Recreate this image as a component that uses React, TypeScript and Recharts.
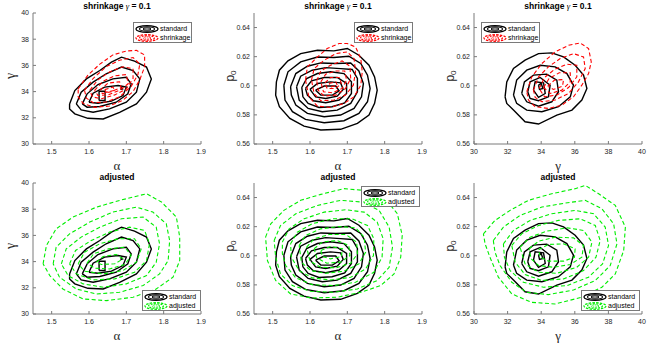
import React from "react";
import { ScatterChart, Scatter, XAxis, YAxis } from "recharts";

type Pt = [number, number];

// axis ranges and ticks
const alphaDomain: [number, number] = [1.45, 1.9];
const alphaTicks = [1.5, 1.6, 1.7, 1.8, 1.9];
const gammaDomain: [number, number] = [30, 40];
const gammaTicks = [30, 32, 34, 36, 38, 40];
const p0Domain: [number, number] = [0.56, 0.65];
const p0Ticks = [0.56, 0.58, 0.6, 0.62, 0.64];

// standard posterior contours (alpha, gamma)
const stdAlphaGamma: Pt[][] = [
  [[1.548, 33.06], [1.562, 34.08], [1.593, 34.97], [1.629, 35.61], [1.66, 36.25], [1.687, 36.63], [1.722, 36.33], [1.754, 35.87], [1.767, 34.97], [1.754, 33.95], [1.727, 33.06], [1.682, 32.42], [1.638, 31.91], [1.597, 31.96], [1.562, 32.3], [1.548, 32.68]],
  [[1.566, 33.06], [1.579, 33.95], [1.611, 34.72], [1.646, 35.36], [1.687, 35.87], [1.718, 35.61], [1.736, 34.97], [1.727, 33.95], [1.7, 33.19], [1.655, 32.68], [1.611, 32.42], [1.579, 32.6]],
  [[1.582, 33.06], [1.595, 33.83], [1.624, 34.54], [1.664, 34.97], [1.7, 35.1], [1.713, 34.59], [1.704, 33.83], [1.673, 33.19], [1.629, 32.86], [1.595, 32.81]],
  [[1.6, 33.19], [1.611, 33.88], [1.642, 34.34], [1.678, 34.46], [1.7, 34.34], [1.691, 33.7], [1.66, 33.27], [1.624, 33.11]],
  [[1.627, 33.32], [1.627, 34.03], [1.643, 34.03], [1.643, 33.32]],
  [[1.685, 34.15], [1.687, 34.3], [1.69, 34.2]],
];

// shrinkage contours (alpha, gamma)
const shrinkAlphaGamma: Pt[][] = [
  [[1.571, 34.2], [1.597, 35.25], [1.629, 36.1], [1.664, 36.8], [1.7, 37.1], [1.727, 37.15], [1.749, 36.8], [1.749, 35.9], [1.736, 34.9], [1.718, 34.0], [1.691, 33.35], [1.655, 32.9], [1.615, 32.8], [1.584, 33.1], [1.571, 33.6]],
  [[1.588, 34.1], [1.611, 35.0], [1.646, 35.9], [1.682, 36.4], [1.718, 36.6], [1.736, 36.1], [1.731, 35.3], [1.713, 34.4], [1.682, 33.6], [1.646, 33.2], [1.611, 33.15], [1.593, 33.5]],
  [[1.602, 34.1], [1.624, 34.9], [1.655, 35.5], [1.691, 35.9], [1.718, 35.75], [1.718, 35.0], [1.7, 34.2], [1.669, 33.75], [1.633, 33.45], [1.609, 33.6]],
  [[1.615, 34.1], [1.638, 34.8], [1.669, 35.2], [1.7, 35.3], [1.705, 34.6], [1.682, 34.1], [1.651, 33.75], [1.624, 33.7]],
  [[1.629, 34.1], [1.651, 34.65], [1.682, 34.75], [1.686, 34.3], [1.66, 34.0], [1.636, 33.85]],
  [[1.642, 34.15], [1.664, 34.35], [1.669, 34.1], [1.646, 33.95]],
];

// adjusted contours (alpha, gamma)
const adjAlphaGamma: Pt[][] = [
  [[1.477, 33.83], [1.486, 35.23], [1.512, 36.5], [1.557, 37.4], [1.62, 38.16], [1.682, 38.67], [1.754, 39.18], [1.794, 38.55], [1.834, 37.4], [1.843, 35.87], [1.843, 34.08], [1.825, 32.81], [1.78, 31.91], [1.718, 31.28], [1.646, 31.02], [1.584, 31.15], [1.53, 31.91], [1.495, 32.93]],
  [[1.504, 33.83], [1.512, 35.1], [1.548, 36.12], [1.602, 37.02], [1.664, 37.78], [1.727, 38.16], [1.771, 37.78], [1.807, 36.89], [1.816, 35.61], [1.812, 34.08], [1.789, 33.06], [1.745, 32.17], [1.682, 31.66], [1.62, 31.53], [1.566, 31.91], [1.521, 32.81]],
  [[1.526, 33.83], [1.539, 34.97], [1.579, 35.87], [1.629, 36.63], [1.687, 37.27], [1.745, 37.4], [1.78, 36.63], [1.789, 35.36], [1.78, 33.95], [1.754, 32.93], [1.7, 32.3], [1.638, 32.04], [1.584, 32.3], [1.544, 32.93]],
  [[1.548, 33.83], [1.564, 34.85], [1.606, 35.61], [1.655, 36.25], [1.709, 36.63], [1.749, 36.38], [1.762, 35.36], [1.754, 34.08], [1.722, 33.19], [1.669, 32.68], [1.611, 32.6], [1.566, 33.06]],
  [[1.571, 33.83], [1.588, 34.72], [1.629, 35.36], [1.678, 35.74], [1.722, 35.74], [1.74, 34.97], [1.727, 33.95], [1.691, 33.32], [1.638, 33.06], [1.588, 33.27]],
  [[1.595, 33.88], [1.612, 34.59], [1.652, 34.97], [1.696, 35.1], [1.713, 34.46], [1.696, 33.78], [1.655, 33.44], [1.615, 33.5]],
  [[1.62, 33.95], [1.638, 34.39], [1.673, 34.54], [1.691, 34.21], [1.669, 33.83], [1.633, 33.78]],
];

// standard posterior contours (alpha, p0)
const stdAlphaP0: Pt[][] = [
  [[1.51, 0.6027], [1.518, 0.6107], [1.541, 0.6171], [1.575, 0.6221], [1.62, 0.6244], [1.664, 0.624], [1.7, 0.6256], [1.731, 0.621], [1.758, 0.6141], [1.773, 0.6061], [1.78, 0.597], [1.773, 0.5879], [1.758, 0.5799], [1.727, 0.5742], [1.682, 0.5701], [1.629, 0.5696], [1.584, 0.5723], [1.546, 0.5776], [1.518, 0.5856], [1.508, 0.5936]],
  [[1.53, 0.6004], [1.541, 0.6096], [1.575, 0.6164], [1.62, 0.6198], [1.664, 0.6194], [1.704, 0.6203], [1.736, 0.6153], [1.754, 0.6073], [1.761, 0.5981], [1.754, 0.589], [1.731, 0.581], [1.691, 0.576], [1.638, 0.5746], [1.588, 0.5769], [1.553, 0.5822], [1.533, 0.5902]],
  [[1.548, 0.5993], [1.562, 0.6084], [1.593, 0.6134], [1.629, 0.6157], [1.669, 0.6153], [1.709, 0.6157], [1.731, 0.6102], [1.743, 0.6016], [1.738, 0.5924], [1.718, 0.5844], [1.682, 0.5799], [1.638, 0.5787], [1.593, 0.581], [1.562, 0.5867], [1.55, 0.5936]],
  [[1.564, 0.5993], [1.575, 0.6066], [1.606, 0.6107], [1.642, 0.6125], [1.682, 0.6118], [1.713, 0.6112], [1.727, 0.605], [1.727, 0.5959], [1.709, 0.5879], [1.673, 0.5833], [1.633, 0.5822], [1.595, 0.5844], [1.571, 0.5902]],
  [[1.578, 0.5988], [1.591, 0.605], [1.62, 0.6084], [1.655, 0.6096], [1.691, 0.6084], [1.711, 0.6027], [1.711, 0.5947], [1.693, 0.5883], [1.659, 0.5856], [1.624, 0.5851], [1.595, 0.5879], [1.581, 0.5924]],
  [[1.588, 0.5981], [1.604, 0.6034], [1.638, 0.6057], [1.673, 0.6057], [1.698, 0.6016], [1.698, 0.5947], [1.678, 0.5902], [1.642, 0.5883], [1.609, 0.5897], [1.593, 0.5936]],
  [[1.6, 0.5975], [1.62, 0.6016], [1.655, 0.6027], [1.682, 0.602], [1.689, 0.5975], [1.673, 0.5929], [1.642, 0.5913], [1.615, 0.5924]],
  [[1.615, 0.597], [1.638, 0.5998], [1.669, 0.5998], [1.678, 0.5965], [1.66, 0.5936], [1.629, 0.5936]],
];

// shrinkage contours (alpha, p0)
const shrinkAlphaP0: Pt[][] = [
  [[1.588, 0.6039], [1.593, 0.613], [1.62, 0.6198], [1.646, 0.6256], [1.678, 0.629], [1.7, 0.629], [1.722, 0.6267], [1.736, 0.6187], [1.74, 0.6096], [1.736, 0.6004], [1.718, 0.5924], [1.691, 0.5879], [1.655, 0.5851], [1.62, 0.586], [1.597, 0.5924]],
  [[1.604, 0.6039], [1.611, 0.6118], [1.638, 0.6176], [1.669, 0.6221], [1.7, 0.6233], [1.718, 0.6187], [1.722, 0.6096], [1.716, 0.6004], [1.695, 0.5936], [1.664, 0.5902], [1.629, 0.5897], [1.611, 0.5947]],
  [[1.618, 0.6034], [1.629, 0.6102], [1.655, 0.6141], [1.686, 0.6171], [1.707, 0.6134], [1.709, 0.605], [1.695, 0.5981], [1.669, 0.5936], [1.638, 0.5929], [1.622, 0.597]],
  [[1.629, 0.6027], [1.642, 0.608], [1.669, 0.6102], [1.693, 0.6102], [1.698, 0.6039], [1.686, 0.5981], [1.66, 0.5952], [1.636, 0.5959]],
  [[1.64, 0.602], [1.655, 0.6057], [1.678, 0.6057], [1.684, 0.6016], [1.669, 0.5981], [1.646, 0.5981]],
  [[1.651, 0.6016], [1.669, 0.6027], [1.673, 0.6004], [1.657, 0.5993]],
];

// adjusted contours (alpha, p0)
const adjAlphaP0: Pt[][] = [
  [[1.481, 0.6128], [1.495, 0.622], [1.53, 0.6312], [1.575, 0.6381], [1.629, 0.6422], [1.691, 0.6461], [1.745, 0.6449], [1.798, 0.6403], [1.834, 0.6289], [1.847, 0.614], [1.843, 0.599], [1.825, 0.5875], [1.789, 0.5795], [1.736, 0.5749], [1.673, 0.5715], [1.602, 0.571], [1.548, 0.5738], [1.508, 0.583], [1.486, 0.5967]],
  [[1.504, 0.6105], [1.521, 0.6208], [1.562, 0.6289], [1.62, 0.6346], [1.682, 0.6381], [1.74, 0.6369], [1.785, 0.6312], [1.812, 0.6197], [1.821, 0.6059], [1.812, 0.5921], [1.78, 0.583], [1.727, 0.5772], [1.664, 0.5749], [1.602, 0.5756], [1.553, 0.5795], [1.521, 0.5875], [1.508, 0.599]],
  [[1.526, 0.6094], [1.544, 0.6185], [1.584, 0.6254], [1.638, 0.63], [1.696, 0.6316], [1.745, 0.63], [1.78, 0.6231], [1.796, 0.6117], [1.793, 0.599], [1.771, 0.5887], [1.722, 0.5818], [1.664, 0.5795], [1.606, 0.5802], [1.562, 0.5848], [1.535, 0.5933], [1.526, 0.6013]],
  [[1.548, 0.6082], [1.566, 0.6162], [1.606, 0.622], [1.66, 0.6254], [1.713, 0.6254], [1.754, 0.6208], [1.771, 0.6117], [1.77, 0.6002], [1.749, 0.591], [1.709, 0.5852], [1.655, 0.5834], [1.606, 0.5848], [1.571, 0.5898], [1.55, 0.599]],
  [[1.571, 0.6071], [1.588, 0.614], [1.629, 0.6185], [1.678, 0.6201], [1.722, 0.6192], [1.745, 0.6128], [1.749, 0.6025], [1.731, 0.5944], [1.691, 0.5894], [1.642, 0.588], [1.602, 0.5898], [1.577, 0.5956]],
  [[1.591, 0.6059], [1.611, 0.6117], [1.651, 0.6146], [1.696, 0.6146], [1.725, 0.6094], [1.727, 0.6013], [1.709, 0.5949], [1.669, 0.5917], [1.629, 0.5921], [1.6, 0.5963]],
  [[1.611, 0.6048], [1.633, 0.6094], [1.673, 0.6105], [1.704, 0.6071], [1.707, 0.6002], [1.682, 0.5956], [1.645, 0.5949], [1.618, 0.5986]],
  [[1.629, 0.6036], [1.655, 0.6064], [1.687, 0.6048], [1.684, 0.5995], [1.655, 0.5979], [1.633, 0.5995]],
];

// standard posterior contours (gamma, p0)
const stdGammaP0: Pt[][] = [
  [[31.85, 0.5924], [31.95, 0.6027], [32.35, 0.6119], [33.04, 0.6176], [33.84, 0.6221], [34.63, 0.6226], [35.33, 0.6198], [36.02, 0.6141], [36.52, 0.6073], [36.72, 0.5981], [36.42, 0.5902], [35.83, 0.5833], [34.93, 0.5799], [33.84, 0.5737], [33.04, 0.5753], [32.35, 0.5833], [31.95, 0.5879]],
  [[32.35, 0.5936], [32.54, 0.6039], [33.14, 0.6107], [33.94, 0.6141], [34.83, 0.613], [35.53, 0.6084], [35.92, 0.6004], [35.73, 0.5924], [35.03, 0.5856], [34.04, 0.5822], [33.14, 0.5833], [32.54, 0.5879]],
  [[32.84, 0.5947], [33.0, 0.6027], [33.54, 0.6073], [34.33, 0.608], [34.93, 0.6039], [35.03, 0.5959], [34.63, 0.589], [33.84, 0.586], [33.14, 0.589]],
  [[33.2, 0.5959], [33.34, 0.6027], [33.94, 0.6057], [34.53, 0.6004], [34.43, 0.5924], [33.84, 0.5897], [33.34, 0.5913]],
  [[33.54, 0.597], [33.64, 0.6027], [34.14, 0.602], [34.24, 0.5947], [33.84, 0.592]],
  [[33.84, 0.6004], [34.0, 0.6016], [34.1, 0.5981], [33.9, 0.5975]],
];

// shrinkage contours (gamma, p0)
const shrinkGammaP0: Pt[][] = [
  [[33.14, 0.5959], [33.44, 0.6061], [34.04, 0.6153], [34.83, 0.6233], [35.63, 0.6278], [36.32, 0.6294], [36.82, 0.6256], [36.98, 0.6164], [36.82, 0.6084], [36.42, 0.6004], [35.92, 0.5924], [35.23, 0.5867], [34.43, 0.5844], [33.64, 0.5856], [33.24, 0.5902]],
  [[33.54, 0.597], [33.84, 0.6061], [34.43, 0.613], [35.13, 0.6187], [35.92, 0.6221], [36.52, 0.6198], [36.62, 0.6118], [36.22, 0.6027], [35.63, 0.5947], [34.83, 0.5902], [34.04, 0.589], [33.64, 0.592]],
  [[33.88, 0.5981], [34.2, 0.6057], [34.79, 0.6112], [35.53, 0.6148], [36.12, 0.6141], [36.12, 0.6061], [35.63, 0.5988], [34.93, 0.5936], [34.2, 0.5924]],
  [[34.14, 0.5988], [34.47, 0.605], [35.07, 0.6089], [35.73, 0.6089], [35.73, 0.6027], [35.23, 0.597], [34.53, 0.5947]],
  [[34.39, 0.5997], [34.79, 0.6039], [35.33, 0.6043], [35.27, 0.5997], [34.73, 0.5975]],
];

// adjusted contours (gamma, p0)
const adjGammaP0: Pt[][] = [
  [[30.56, 0.6151], [31.25, 0.6243], [32.15, 0.6312], [33.24, 0.6381], [34.63, 0.6426], [36.02, 0.6461], [36.62, 0.6484], [37.42, 0.6426], [38.41, 0.6346], [39.01, 0.6197], [38.91, 0.6036], [38.41, 0.5875], [37.61, 0.5784], [36.42, 0.5715], [34.83, 0.5669], [33.44, 0.568], [32.25, 0.5738], [31.45, 0.5853], [30.95, 0.599], [30.66, 0.6082]],
  [[31.15, 0.6105], [31.75, 0.6197], [32.74, 0.6277], [34.04, 0.6335], [35.43, 0.6362], [36.62, 0.6381], [37.61, 0.6323], [38.31, 0.622], [38.51, 0.6082], [38.11, 0.5933], [37.22, 0.583], [35.92, 0.5765], [34.43, 0.5733], [33.14, 0.5749], [32.25, 0.5818], [31.55, 0.5933], [31.25, 0.6025]],
  [[31.75, 0.6082], [32.35, 0.6174], [33.34, 0.6243], [34.63, 0.6289], [36.02, 0.6312], [37.12, 0.6289], [37.81, 0.6197], [38.01, 0.6071], [37.65, 0.5944], [36.82, 0.5853], [35.53, 0.5795], [34.14, 0.5784], [32.94, 0.5818], [32.15, 0.5898], [31.81, 0.599]],
  [[32.25, 0.6071], [32.84, 0.6151], [33.84, 0.6208], [35.03, 0.6243], [36.32, 0.6254], [37.22, 0.6208], [37.51, 0.6105], [37.26, 0.599], [36.52, 0.5898], [35.33, 0.5841], [34.04, 0.583], [33.04, 0.5871], [32.45, 0.5956]],
  [[32.74, 0.6059], [33.34, 0.6128], [34.33, 0.6169], [35.53, 0.6192], [36.52, 0.6174], [37.02, 0.6094], [36.82, 0.599], [36.12, 0.5921], [34.93, 0.588], [33.84, 0.5887], [33.04, 0.5944]],
  [[33.28, 0.6048], [33.84, 0.61], [34.83, 0.6128], [35.92, 0.6123], [36.52, 0.6071], [36.42, 0.599], [35.73, 0.594], [34.73, 0.5921], [33.84, 0.5933], [33.4, 0.5979]],
  [[33.84, 0.6041], [34.43, 0.6078], [35.33, 0.6082], [36.02, 0.6048], [35.98, 0.599], [35.33, 0.5963], [34.43, 0.5963], [33.94, 0.599]],
];

const SANS = '"Liberation Sans", Arial, Helvetica, sans-serif';
const SERIF = '"Liberation Serif", "Times New Roman", serif';
const TICK_GRAY = "#262626";
const BOX_GRAY = "#7a7a7a";

const W = 221;
const H = 174;
const PLOT_LEFT = 33;
const PLOT_W = 168;
const PLOT_H = 131;

const closed = (c: Pt[]) => [...c, c[0]].map(([x, y]) => ({ x, y }));
const noDot = () => <g />;

const LegendIcon = ({ color, dashed }: { color: string; dashed: boolean }) => (
  <svg width={24} height={8} style={{ display: "block" }}>
    <ellipse cx={12} cy={4} rx={11} ry={3.3} fill="none" stroke={color} strokeWidth={1.2} strokeDasharray={dashed ? "2.5 1.2" : undefined} />
    <ellipse cx={12} cy={4} rx={7.5} ry={2.2} fill="none" stroke={color} strokeWidth={1.1} strokeDasharray={dashed ? "2 1.2" : undefined} />
    <ellipse cx={12} cy={4} rx={4} ry={1.1} fill="none" stroke={color} strokeWidth={1} strokeDasharray={dashed ? "1.5 1" : undefined} />
  </svg>
);

const LegendBox = ({ left, top, color, name }: { left: number; top: number; color: string; name: string }) => (
  <div
    style={{
      position: "absolute",
      left,
      top,
      width: 59,
      height: 21,
      boxSizing: "border-box",
      border: `1px solid ${BOX_GRAY}`,
      background: "#fff",
      fontFamily: SANS,
      fontSize: 7,
      color: "#000",
      padding: "1px 0 0 1px",
    }}
  >
    <div style={{ display: "flex", alignItems: "center", height: 9 }}>
      <LegendIcon color="#000" dashed={false} />
      <span style={{ marginLeft: 1 }}>standard</span>
    </div>
    <div style={{ display: "flex", alignItems: "center", height: 9 }}>
      <LegendIcon color={color} dashed />
      <span style={{ marginLeft: 1 }}>{name}</span>
    </div>
  </div>
);

interface PanelProps {
  left: number;
  top: number;
  bottomRow: boolean;
  xDomain: [number, number];
  xTicks: number[];
  yDomain: [number, number];
  yTicks: number[];
  xLabel: React.ReactNode;
  yLabel: React.ReactNode;
  std: Pt[][];
  other: Pt[][];
  color: string;
  name: string;
  legend: [number, number];
}

const Panel = (p: PanelProps) => {
  const marginTop = p.bottomRow ? 9 : 13;
  const plotBottom = marginTop + PLOT_H;
  const tickStyle = { fontSize: 7, fill: TICK_GRAY, fontFamily: SANS };
  const title = p.bottomRow ? (
    <>adjusted</>
  ) : (
    <>
      shrinkage <span style={{ fontFamily: SERIF, fontStyle: "italic", fontWeight: "normal" }}>γ</span> = 0.1
    </>
  );

  return (
    <div style={{ position: "absolute", left: p.left, top: p.top, width: W, height: H }}>
      <ScatterChart width={W} height={H} margin={{ top: marginTop, right: W - PLOT_LEFT - PLOT_W, bottom: 0, left: 0 }}>
        <XAxis
          type="number"
          dataKey="x"
          domain={p.xDomain}
          ticks={p.xTicks}
          allowDataOverflow
          interval={0}
          height={H - plotBottom}
          tickSize={-3}
          tickMargin={8}
          tick={tickStyle}
          axisLine={{ stroke: BOX_GRAY }}
          tickLine={{ stroke: BOX_GRAY }}
        />
        <YAxis
          type="number"
          dataKey="y"
          domain={p.yDomain}
          ticks={p.yTicks}
          allowDataOverflow
          interval={0}
          width={PLOT_LEFT}
          tickSize={-3}
          tickMargin={7}
          tick={tickStyle}
          axisLine={{ stroke: BOX_GRAY }}
          tickLine={{ stroke: BOX_GRAY }}
        />
        <XAxis
          xAxisId="top"
          orientation="top"
          type="number"
          domain={p.xDomain}
          ticks={p.xTicks}
          allowDataOverflow
          interval={0}
          mirror
          height={0}
          tick={false}
          tickSize={3}
          axisLine={{ stroke: BOX_GRAY }}
          tickLine={{ stroke: BOX_GRAY }}
        />
        <YAxis
          yAxisId="right"
          orientation="right"
          type="number"
          domain={p.yDomain}
          ticks={p.yTicks}
          allowDataOverflow
          interval={0}
          mirror
          width={0}
          tick={false}
          tickSize={3}
          axisLine={{ stroke: BOX_GRAY }}
          tickLine={{ stroke: BOX_GRAY }}
        />
        {p.std.map((c, i) => (
          <Scatter
            key={`std${i}`}
            data={closed(c)}
            fill="#000"
            line={{ stroke: "#000", strokeWidth: 1.4 }}
            shape={noDot}
            isAnimationActive={false}
          />
        ))}
        {p.other.map((c, i) => (
          <Scatter
            key={`oth${i}`}
            data={closed(c)}
            fill={p.color}
            line={{ stroke: p.color, strokeWidth: 1.1, strokeDasharray: "4 2.5" }}
            shape={noDot}
            isAnimationActive={false}
          />
        ))}
      </ScatterChart>

      <div
        style={{
          position: "absolute",
          left: PLOT_LEFT,
          width: PLOT_W,
          top: p.bottomRow ? -1.5 : 2,
          height: 9,
          lineHeight: "9px",
          textAlign: "center",
          fontFamily: SANS,
          fontSize: 8.5,
          fontWeight: "bold",
          color: "#000",
          whiteSpace: "nowrap",
        }}
      >
        {title}
      </div>

      <div
        style={{
          position: "absolute",
          left: PLOT_LEFT,
          width: PLOT_W,
          top: plotBottom + 16,
          height: 12,
          lineHeight: "12px",
          textAlign: "center",
          fontSize: 13,
          color: TICK_GRAY,
        }}
      >
        {p.xLabel}
      </div>

      <div
        style={{
          position: "absolute",
          left: 11,
          top: marginTop + PLOT_H / 2 - 3,
          transform: "translate(-50%, -50%) rotate(-90deg)",
          whiteSpace: "nowrap",
          lineHeight: "14px",
          fontSize: 14,
          color: TICK_GRAY,
        }}
      >
        {p.yLabel}
      </div>

      <LegendBox left={p.legend[0]} top={p.legend[1]} color={p.color} name={p.name} />
    </div>
  );
};

const greek = (s: string) => <span style={{ fontFamily: SERIF }}>{s}</span>;
const p0Label = (
  <span style={{ fontFamily: SANS, fontSize: 12 }}>
    p<sub style={{ fontSize: 8, verticalAlign: "-2px" }}>0</sub>
  </span>
);

const RED = "#ff0000";
const GREEN = "#00ee00";

export default function App() {
  return (
    <div
      style={{
        position: "absolute",
        left: 0,
        top: 0,
        width: 663,
        height: 348,
        background: "#fff",
        overflow: "hidden",
      }}
    >
      <Panel left={0} top={0} bottomRow={false} xDomain={alphaDomain} xTicks={alphaTicks} yDomain={gammaDomain} yTicks={gammaTicks}
        xLabel={greek("α")} yLabel={greek("γ")} std={stdAlphaGamma} other={shrinkAlphaGamma} color={RED} name="shrinkage" legend={[133, 22]} />
      <Panel left={221} top={0} bottomRow={false} xDomain={alphaDomain} xTicks={alphaTicks} yDomain={p0Domain} yTicks={p0Ticks}
        xLabel={greek("α")} yLabel={p0Label} std={stdAlphaP0} other={shrinkAlphaP0} color={RED} name="shrinkage" legend={[133, 22]} />
      <Panel left={441} top={0} bottomRow={false} xDomain={gammaDomain} xTicks={gammaTicks} yDomain={p0Domain} yTicks={p0Ticks}
        xLabel={greek("γ")} yLabel={p0Label} std={stdGammaP0} other={shrinkGammaP0} color={RED} name="shrinkage" legend={[40, 22]} />
      <Panel left={0} top={174} bottomRow xDomain={alphaDomain} xTicks={alphaTicks} yDomain={gammaDomain} yTicks={gammaTicks}
        xLabel={greek("α")} yLabel={greek("γ")} std={stdAlphaGamma} other={adjAlphaGamma} color={GREEN} name="adjusted" legend={[142, 116]} />
      <Panel left={221} top={174} bottomRow xDomain={alphaDomain} xTicks={alphaTicks} yDomain={p0Domain} yTicks={p0Ticks}
        xLabel={greek("α")} yLabel={p0Label} std={stdAlphaP0} other={adjAlphaP0} color={GREEN} name="adjusted" legend={[140, 12]} />
      <Panel left={441} top={174} bottomRow xDomain={gammaDomain} xTicks={gammaTicks} yDomain={p0Domain} yTicks={p0Ticks}
        xLabel={greek("γ")} yLabel={p0Label} std={stdGammaP0} other={adjGammaP0} color={GREEN} name="adjusted" legend={[140, 116]} />
    </div>
  );
}
